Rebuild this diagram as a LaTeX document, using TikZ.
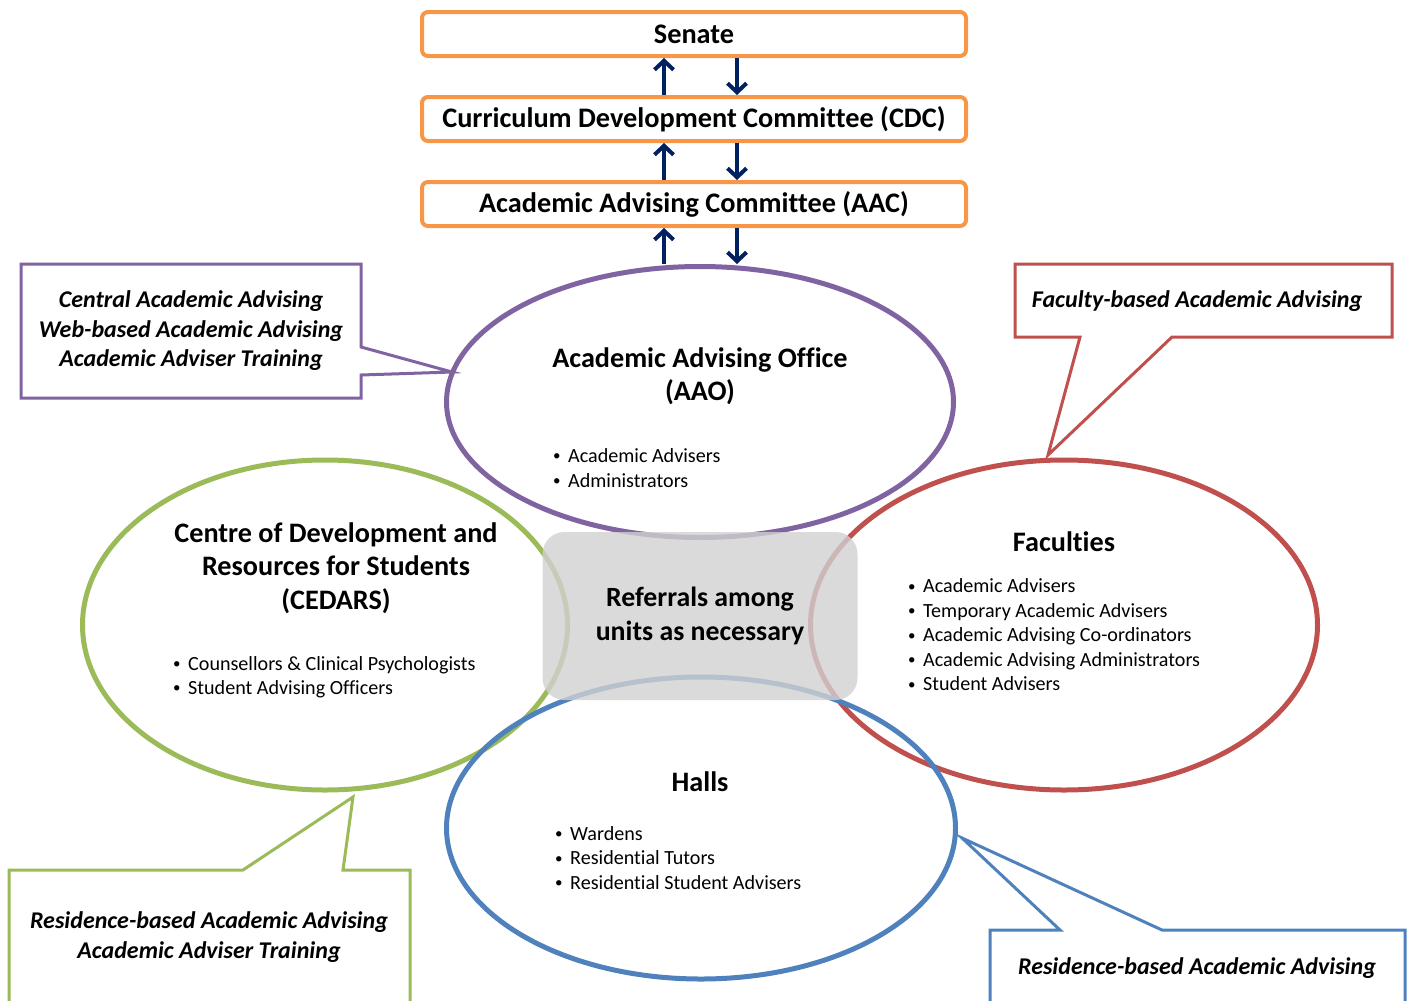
\documentclass[tikz,border=0pt]{standalone}
\usepackage{fontspec}
\setmainfont{Carlito}[Ligatures=NoCommon]
\usepackage{xcolor}
\usepackage{tikz}
\usetikzlibrary{shapes,arrows,positioning,calc,arrows.meta}

\definecolor{boxorange}{HTML}{F79646}
\definecolor{arrownavy}{HTML}{002060}
\definecolor{aaopurple}{HTML}{8064A2}
\definecolor{cedgreen}{HTML}{9BBB59}
\definecolor{facred}{HTML}{C0504D}
\definecolor{hallblue}{HTML}{4F81BD}

\newcommand{\unititem}[1]{\makebox[17pt][l]{\hspace{2pt}\raisebox{1.8pt}{\fontsize{15}{15}\selectfont\textbullet}}#1}

\begin{document}
\begin{tikzpicture}[
    x=1pt, y=-1pt,
    topbox/.style={rectangle, draw=boxorange, line width=4pt, rounded corners=6pt, fill=white, minimum width=544pt, minimum height=44pt, font=\fontsize{28.3}{30}\selectfont\bfseries},
    flowarrow/.style={draw=arrownavy, line width=4pt, -{Straight Barb[length=9pt,width=19pt]}},
    unit/.style={ellipse, line width=5pt, inner sep=0pt},
    unittitle/.style={align=center, font=\fontsize{28.2}{33.5}\selectfont\bfseries},
    unitlist/.style={anchor=west, align=left, inner sep=0pt, font=\fontsize{20.1}{24.5}\selectfont},
    callout/.style={line width=3pt, fill=white},
    callouttext/.style={align=center, font=\fontsize{24}{29.5}\selectfont\bfseries\itshape}
]
    \useasboundingbox (0,0) rectangle (1408,1001);

    % Committees
    \node[topbox] (senate) at (694,34) {Senate};
    \node[topbox] (cdc) at (694,119) {Curriculum Development Committee (CDC)};
    \node[topbox] (aac) at (694,204) {Academic Advising Committee (AAC)};

    % Callouts
    \draw[callout, draw=aaopurple] (21,264) -- (361,264) -- (361,347) -- (452,372) -- (361,375) -- (361,398) -- (21,398) -- cycle;
    \node[callouttext] (aaonote) at (191,331) {Central Academic Advising\\Web-based Academic Advising\\Academic Adviser Training};
    \draw[callout, draw=facred] (1015,264) -- (1392,264) -- (1392,337) -- (1172,337) -- (1048,455) -- (1080,337) -- (1015,337) -- cycle;
    \node[callouttext] (facnote) at (1197,301) {Faculty-based Academic Advising};
    \draw[callout, draw=cedgreen] (9,1001) -- (9,870) -- (243,870) -- (353,797) -- (343,870) -- (410,870) -- (410,1001);
    \node[callouttext] (cednote) at (209,937) {Residence-based Academic Advising\\Academic Adviser Training};
    \draw[callout, draw=hallblue] (990,1001) -- (990,930) -- (1060,930) -- (962,838) -- (1162,930) -- (1405,930) -- (1405,1001);
    \node[callouttext] (hallnote) at (1197,968) {Residence-based Academic Advising};

    % Units
    \node[unit, draw=aaopurple, minimum width=507pt, minimum height=271pt] (aao) at (700,402) {};
    \node[unit, draw=cedgreen, minimum width=485pt, minimum height=330pt] (cedars) at (325,625) {};
    \node[unit, draw=facred, minimum width=507pt, minimum height=330pt] (fac) at (1064,625) {};
    \node[unit, draw=hallblue, minimum width=509pt, minimum height=302pt] (halls) at (701,828) {};

    % Referrals
    \node[rectangle, rounded corners=22pt, fill=black!18, fill opacity=0.8, text opacity=1, minimum width=315pt, minimum height=168pt, font=\fontsize{27.8}{34}\selectfont\bfseries, align=center] (refer) at (700,616) {Referrals among\\units as necessary};

    % Unit texts
    \node[unittitle] (aaotitle) at (700,376) {Academic Advising Office\\(AAO)};
    \node[unitlist] (aaolist) at (551,468) {\unititem{Academic Advisers}\\\unititem{Administrators}};
    \node[unittitle] (cedtitle) at (336,568) {Centre of Development and\\Resources for Students\\(CEDARS)};
    \node[unitlist] (cedlist) at (171,677) {\unititem{Counsellors \& Clinical Psychologists}\\\unititem{Student Advising Officers}};
    \node[unittitle] (factitle) at (1064,542) {Faculties};
    \node[unitlist] (faclist) at (906,635) {\unititem{Academic Advisers}\\\unititem{Temporary Academic Advisers}\\\unititem{Academic Advising Co-ordinators}\\\unititem{Academic Advising Administrators}\\\unititem{Student Advisers}};
    \node[unittitle] (halltitle) at (700,782) {Halls};
    \node[unitlist] (halllist) at (553,858) {\unititem{Wardens}\\\unititem{Residential Tutors}\\\unititem{Residential Student Advisers}};

    % Reporting arrows
    \draw[flowarrow] ([xshift=-30pt]cdc.north) -- ([xshift=-30pt]senate.south);
    \draw[flowarrow] ([xshift=43pt]senate.south) -- ([xshift=43pt]cdc.north);
    \draw[flowarrow] ([xshift=-30pt]aac.north) -- ([xshift=-30pt]cdc.south);
    \draw[flowarrow] ([xshift=43pt]cdc.south) -- ([xshift=43pt]aac.north);
    \draw[flowarrow] ([xshift=-36pt]aao.north) -- ([xshift=-30pt]aac.south);
    \draw[flowarrow] ([xshift=43pt]aac.south) -- ([xshift=37pt]aao.north);
\end{tikzpicture}
\end{document}
